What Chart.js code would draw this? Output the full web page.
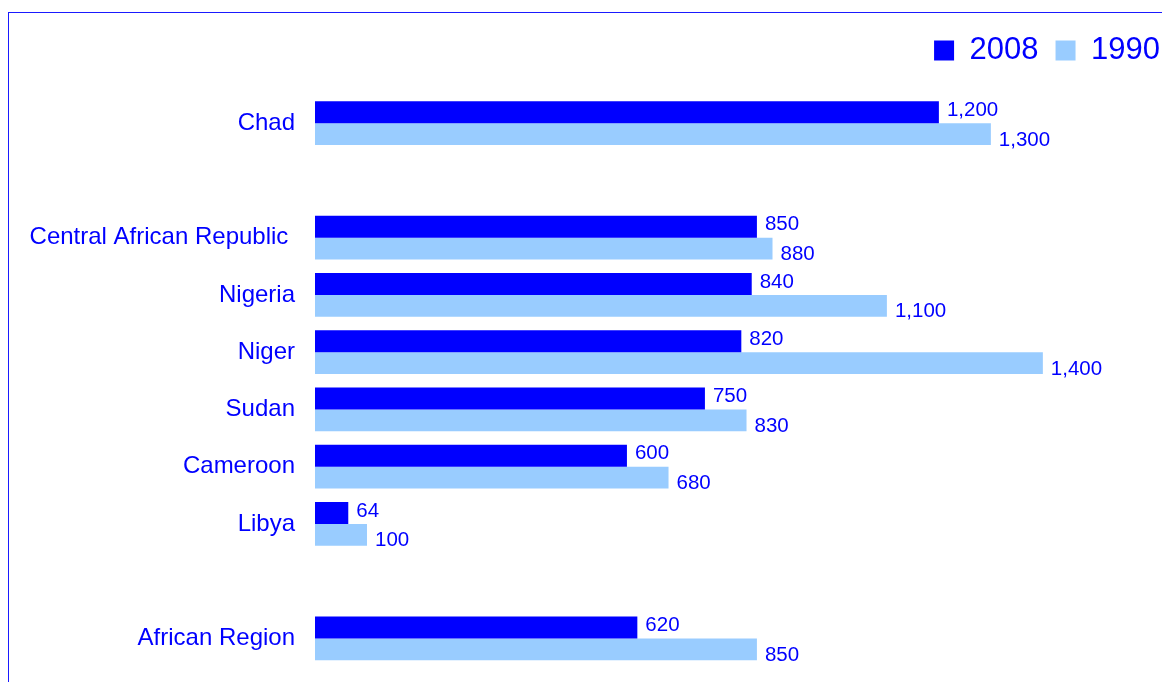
<!DOCTYPE html>
<html><head><meta charset="utf-8">
<script src="https://cdn.jsdelivr.net/npm/chart.js@4.4.0/dist/chart.umd.min.js"></script>
<style>
html,body{margin:0;padding:0;background:#fff;overflow:hidden;width:1162px;height:682px}
#wrap{position:relative;width:1162px;height:682px;overflow:hidden}
#frame{position:absolute;left:8px;top:12px;right:-10px;bottom:-10px;border-top:1px solid #1a1aff;border-left:1px solid #1a1aff}
canvas{position:absolute;left:0;top:0}
</style></head><body>
<div id="wrap"><div id="frame"></div><canvas id="c" width="1177" height="682"></canvas></div>
<script>
const categories = ['Chad', '', 'Central African Republic ', 'Nigeria', 'Niger', 'Sudan', 'Cameroon', 'Libya', '', 'African Region'];
const values2008 = [1200, null, 850, 840, 820, 750, 600, 64, null, 620];
const values1990 = [1300, null, 880, 1100, 1400, 830, 680, 100, null, 850];
const seriesNames = ['2008', '1990'];

const FONT = "'Liberation Sans', Arial, sans-serif";
const TEXT = '#0000FF';

const valueLabels = {
  id: 'valueLabels',
  afterDatasetsDraw(chart) {
    const ctx = chart.ctx;
    ctx.save();
    ctx.font = '20.5px ' + FONT;
    ctx.fillStyle = TEXT;
    ctx.textAlign = 'left';
    ctx.textBaseline = 'middle';
    const offs = [-2, 6];
    chart.data.datasets.forEach((ds, di) => {
      const meta = chart.getDatasetMeta(di);
      meta.data.forEach((bar, i) => {
        const v = ds.data[i];
        if (v === null || v === undefined) return;
        ctx.fillText(v.toLocaleString('en-US'), bar.x + 8, bar.y + offs[di]);
      });
    });
    ctx.restore();
  }
};

new Chart(document.getElementById('c'), {
  type: 'bar',
  data: {
    labels: categories,
    datasets: [
      { label: seriesNames[0], data: values2008, backgroundColor: '#0000FF', borderWidth: 0, barPercentage: 1, categoryPercentage: 0.76 },
      { label: seriesNames[1], data: values1990, backgroundColor: '#99CCFF', borderWidth: 0, barPercentage: 1, categoryPercentage: 0.76 }
    ]
  },
  options: {
    indexAxis: 'y',
    responsive: false,
    animation: false,
    layout: { padding: { top: 18, bottom: 15, left: 0, right: 0 } },
    plugins: {
      tooltip: { enabled: false },
      legend: {
        position: 'top',
        align: 'end',
        labels: {
          font: { size: 31, family: FONT },
          color: TEXT,
          boxWidth: 20,
          boxHeight: 20,
          padding: 17
        }
      }
    },
    scales: {
      x: {
        position: 'top',
        min: 0, max: 1658,
        grid: { display: false, drawTicks: false },
        border: { display: false },
        ticks: { display: false },
        afterFit: s => { s.height = 18.5; s.paddingLeft = 0; s.paddingRight = 0; }
      },
      y: {
        grid: { display: false, drawTicks: false },
        border: { display: false },
        ticks: { font: { size: 24, family: FONT }, color: TEXT, padding: 20, autoSkip: false },
        afterFit: s => { s.width = 315; s.paddingTop = 0; s.paddingBottom = 0; }
      }
    }
  },
  plugins: [valueLabels]
});
</script>
</body></html>
